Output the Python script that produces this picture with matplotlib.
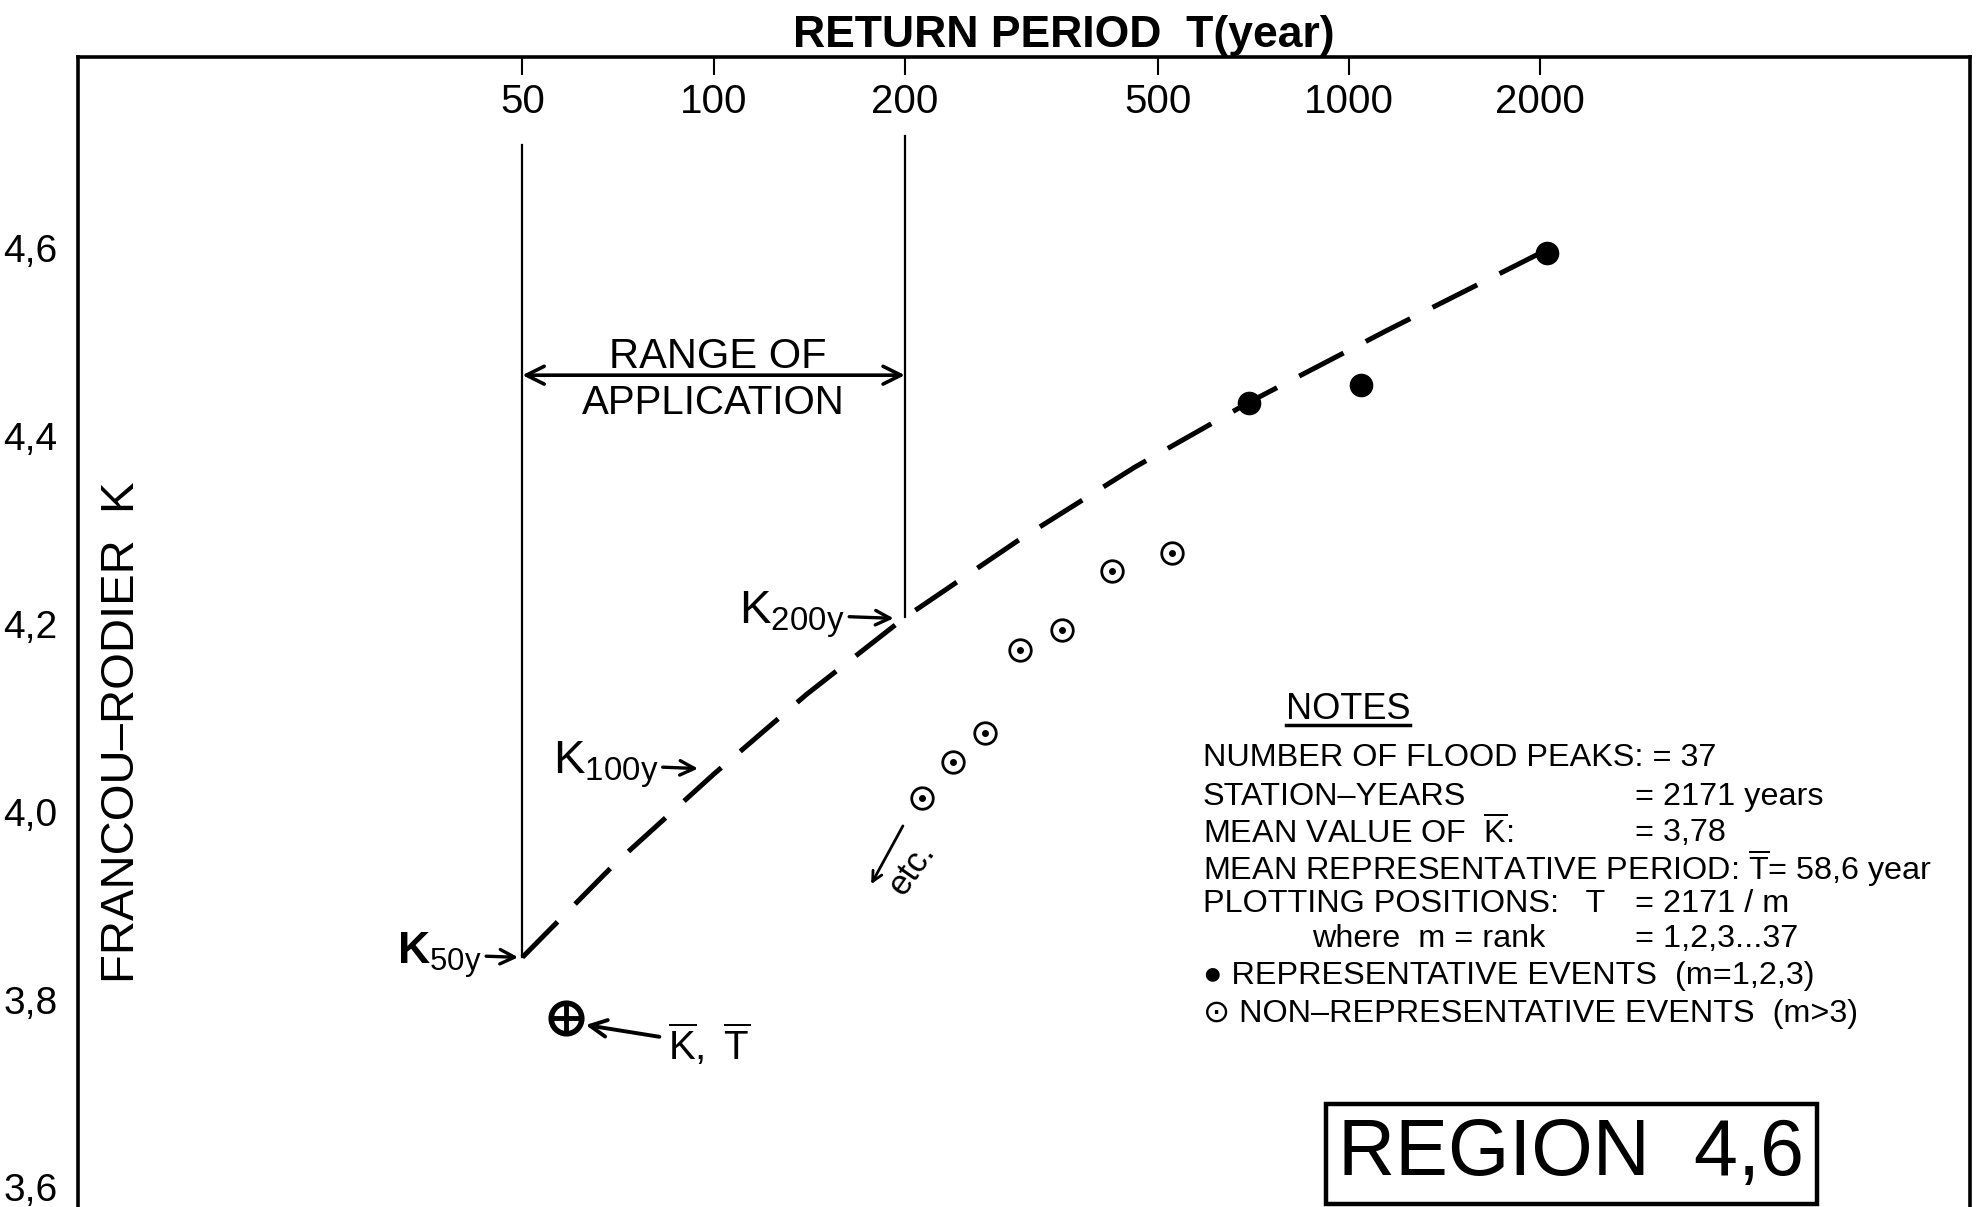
import numpy as np
import matplotlib
matplotlib.use("Agg")
import matplotlib.pyplot as plt
from matplotlib.ticker import NullLocator
from matplotlib.lines import Line2D
from matplotlib.transforms import blended_transform_factory

plt.rcParams['font.family'] = ['Liberation Sans', 'DejaVu Sans']
plt.rcParams['mathtext.fontset'] = 'custom'
plt.rcParams['mathtext.rm'] = 'Liberation Sans'
plt.rcParams['mathtext.bf'] = 'Liberation Sans:bold'
plt.rcParams['mathtext.it'] = 'Liberation Sans:italic'

# axis ticks
t_ticks = [50, 100, 200, 500, 1000, 2000]
t_ticklabels = ['50', '100', '200', '500', '1000', '2000']
k_ticks = [3.6, 3.8, 4.0, 4.2, 4.4, 4.6]
k_ticklabels = ['3,6', '3,8', '4,0', '4,2', '4,4', '4,6']

# dashed regional curve
curve_T = [50, 70, 100, 140, 200, 300, 460, 700, 1150, 2000]
curve_K = [3.845, 3.945, 4.04, 4.125, 4.207, 4.288, 4.367, 4.437, 4.513, 4.595]

# representative events (m = 1,2,3)
rep_T = [2050, 1045, 695]
rep_K = [4.595, 4.455, 4.435]

# non-representative events (m > 3)
nonrep_T = [527, 424, 354, 304, 267, 238, 213]
nonrep_K = [4.276, 4.256, 4.194, 4.172, 4.084, 4.053, 4.015]

# mean point K-bar, T-bar
mean_T = 58.6
mean_K = 3.78

# range of application (verticals at 50 and 200 years)
range_T = [50, 200]
range_top = [4.71, 4.72]
range_bottom = [3.845, 4.207]

fig = plt.figure(figsize=(19.79, 12.07), dpi=100)
ax = fig.add_axes([0.03954, -0.0227, 0.9560, 0.9756])
ax.set_xscale('log')
ax.set_xlim(10, 9500)
ax.set_ylim(3.55, 4.804)

for s in ['top', 'left', 'right']:
    ax.spines[s].set_linewidth(2.6)
ax.spines['bottom'].set_visible(False)

ax.xaxis.set_minor_locator(NullLocator())
ax.set_xticks(t_ticks)
ax.set_xticklabels(t_ticklabels)
ax.tick_params(axis='x', which='both', top=True, bottom=False, labeltop=True,
               labelbottom=False, direction='in', length=13, width=1.5,
               pad=-46.5, labelsize=29)
ax.set_yticks(k_ticks)
ax.set_yticklabels(k_ticklabels)
ax.tick_params(axis='y', length=0, pad=15, labelsize=28)

# range of application lines
for t, k0, k1 in zip(range_T, range_bottom, range_top):
    ax.plot([t, t], [k0, k1], color='black', lw=1.6)
ax.annotate('', xy=(range_T[0], 4.465), xytext=(range_T[1], 4.465),
            arrowprops=dict(arrowstyle='<->', lw=2.6, mutation_scale=32,
                            shrinkA=0, shrinkB=0, color='black'))
ax.text(101.5, 4.484, 'RANGE OF', ha='center', va='center', fontsize=30)
ax.text(100, 4.435, 'APPLICATION', ha='center', va='center', fontsize=29)

# curve
ax.plot(curve_T, curve_K, color='black', lw=3.6, linestyle=(0, (10, 5)))

# points
ax.plot(rep_T, rep_K, 'o', color='black', ms=16)
ax.plot(nonrep_T, nonrep_K, 'o', mfc='white', mec='black', mew=2.0, ms=15.5)
ax.plot(nonrep_T, nonrep_K, 'o', color='black', ms=4)
ax.plot(mean_T, mean_K, 'o', mfc='white', mec='black', mew=4, ms=22)
ax.plot(mean_T, mean_K, '+', color='black', mew=3.5, ms=20)

# K labels with arrows
arrow = dict(arrowstyle='->', lw=2.4, mutation_scale=26, color='black',
             shrinkA=1, shrinkB=1)
ax.annotate(r'$\mathbf{K}_{\mathrm{50y}}$', xy=(49.5, 3.845), xytext=(43.2, 3.848),
            ha='right', va='center', fontsize=32, arrowprops=arrow)
ax.annotate(r'$\mathrm{K}_{\mathrm{100y}}$', xy=(95, 4.046), xytext=(81.9, 4.05),
            ha='right', va='center', fontsize=34, arrowprops=arrow)
ax.annotate(r'$\mathrm{K}_{\mathrm{200y}}$', xy=(193, 4.206), xytext=(161, 4.21),
            ha='right', va='center', fontsize=34, arrowprops=arrow)

ax.annotate(r'$\overline{\mathrm{K}},\ \overline{\mathrm{T}}$', xy=(62.9, 3.773),
            xytext=(98.3, 3.752), ha='center', va='center', fontsize=29,
            arrowprops=dict(arrowstyle='->', lw=2.8, mutation_scale=30,
                            color='black', shrinkA=4, shrinkB=0))

# etc.
ax.annotate('', xy=(177, 3.923), xytext=(198.6, 3.985),
            arrowprops=dict(arrowstyle='->', lw=2.0, mutation_scale=18,
                            color='black', shrinkA=0, shrinkB=0))
ax.text(205, 3.94, 'etc.', rotation=55, ha='center', va='center', fontsize=25)

# axis titles
ax.text(0.521, 1.0085, 'RETURN PERIOD  T(year)', transform=ax.transAxes,
        ha='center', va='baseline', fontsize=32, fontweight='bold')
trans = blended_transform_factory(ax.transAxes, ax.transData)
ax.text(0.0233, 4.085, 'FRANCOU\u2013RODIER  K', transform=trans, rotation=90,
        ha='center', va='center', fontsize=34)

# notes
notes_title = fig.text(0.6811, 0.4121, 'NOTES', ha='center', va='center', fontsize=26)
x0, x1, xw = 0.6078, 0.826, 0.663
nfs = 23.3
rows = [
    (x0, 0.3724, 'NUMBER OF FLOOD PEAKS: = 37'),
    (x0, 0.3399, 'STATION\u2013YEARS'),
    (x1, 0.3399, '= 2171 years'),
    (x0, 0.3096, r'MEAN VALUE OF  $\overline{\mathrm{K}}$:'),
    (x1, 0.3096, '= 3,78'),
    (x0, 0.2803, r'MEAN REPRESENTATIVE PERIOD: $\overline{\mathrm{T}}$= 58,6 year'),
    (x0, 0.2510, 'PLOTTING POSITIONS:   T'),
    (x1, 0.2510, '= 2171 / m'),
    (xw, 0.2218, 'where  m = rank'),
    (x1, 0.2218, '= 1,2,3...37'),
    (x0, 0.1914, '\u25cf REPRESENTATIVE EVENTS  (m=1,2,3)'),
    (x0, 0.1600, '\u2299 NON\u2013REPRESENTATIVE EVENTS  (m>3)'),
]
for x, y, s in rows:
    fig.text(x, y, s, ha='left', va='center', fontsize=nfs)

fig.text(0.794, 0.0439, 'REGION  4,6', ha='center', va='center', fontsize=57,
         bbox=dict(boxstyle='square,pad=0.16', fc='white', ec='black', lw=3.2))

fig.canvas.draw()
bb = notes_title.get_window_extent(fig.canvas.get_renderer())
W, H = fig.bbox.width, fig.bbox.height
fig.add_artist(Line2D([bb.x0 / W, bb.x1 / W], [(bb.y0 + 2) / H] * 2,
                      transform=fig.transFigure, color='black', lw=2.5))

fig.savefig('out.png', dpi=100, facecolor='white')
